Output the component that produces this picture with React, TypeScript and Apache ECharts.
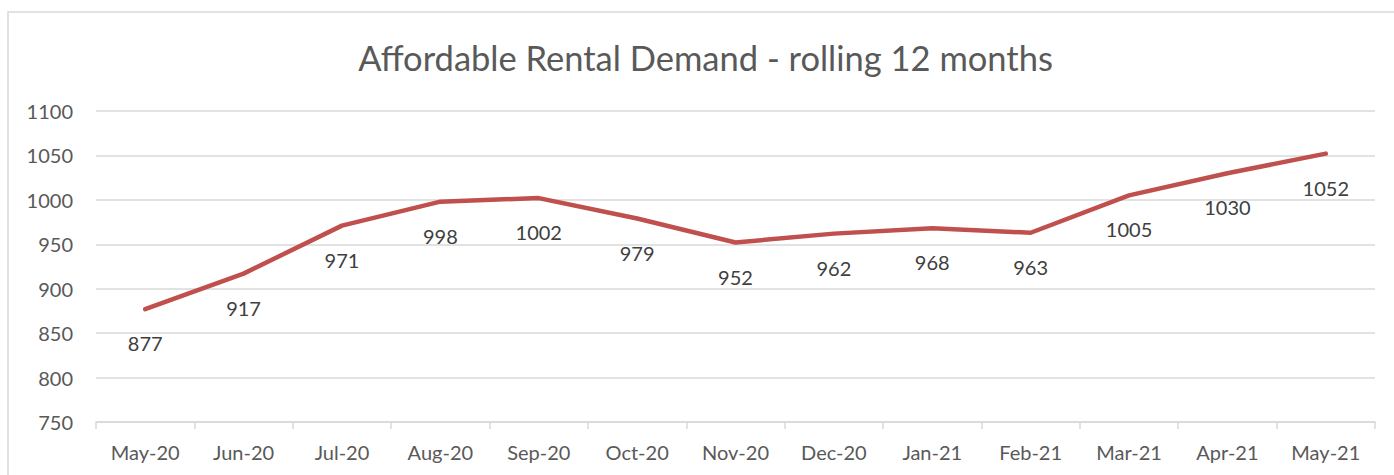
import React, { useEffect, useRef } from "react";
import * as echarts from "echarts";

const categories = ["May-20", "Jun-20", "Jul-20", "Aug-20", "Sep-20", "Oct-20", "Nov-20", "Dec-20", "Jan-21", "Feb-21", "Mar-21", "Apr-21", "May-21"];
const demand = [877, 917, 971, 998, 1002, 979, 952, 962, 968, 963, 1005, 1030, 1052];
const yMin = 750;
const yMax = 1100;
const yInterval = 50;
const titleText = "Affordable Rental Demand - rolling 12 months";

export default function App() {
  const ref = useRef<HTMLDivElement>(null);
  useEffect(() => {
    if (!ref.current) return;
    const chart = echarts.init(ref.current, null, { renderer: "svg" });
    const font = "Lato, 'Open Sans', sans-serif";
    chart.setOption({
      animation: false,
      backgroundColor: "#ffffff",
      graphic: [
        {
          type: "rect",
          shape: { x: 8, y: 12, width: 1500, height: 600 },
          style: { fill: "none", stroke: "#d9d9d9", lineWidth: 1.5 },
          silent: true,
        },
        {
          type: "text",
          x: 705.5,
          y: 57,
          style: {
            text: titleText,
            fill: "#595959",
            font: `34.5px ${font}`,
            textAlign: "center",
            textVerticalAlign: "middle",
          },
        },
      ],
      grid: { left: 96, right: 19, top: 111, bottom: 53, containLabel: false },
      xAxis: {
        type: "category",
        data: categories,
        boundaryGap: true,
        axisLine: { lineStyle: { color: "#d9d9d9", width: 1.5 } },
        axisTick: { show: true, length: 7, lineStyle: { color: "#d9d9d9", width: 1.5 } },
        axisLabel: { color: "#595959", fontSize: 20, fontFamily: font, margin: 20, interval: 0 },
      },
      yAxis: {
        type: "value",
        min: yMin,
        max: yMax,
        interval: yInterval,
        axisLine: { show: false },
        axisTick: { show: false },
        splitLine: { lineStyle: { color: "#d9d9d9", width: 1.5 } },
        axisLabel: {
          color: "#595959",
          fontSize: 20,
          fontFamily: font,
          margin: 23,
          formatter: (v: number) => String(v),
        },
      },
      series: [
        {
          type: "line",
          data: demand,
          symbol: "circle",
          symbolSize: 2,
          showSymbol: true,
          itemStyle: { color: "#C0504D" },
          lineStyle: { color: "#C0504D", width: 4.5, cap: "round", join: "round" },
          label: {
            show: true,
            position: "bottom",
            distance: 23,
            color: "#404040",
            fontSize: 20,
            fontFamily: font,
          },
        },
      ],
    });
    return () => chart.dispose();
  }, []);
  return (
    <div
      ref={ref}
      style={{ position: "absolute", left: 0, top: 0, width: 1394, height: 475 }}
    />
  );
}
